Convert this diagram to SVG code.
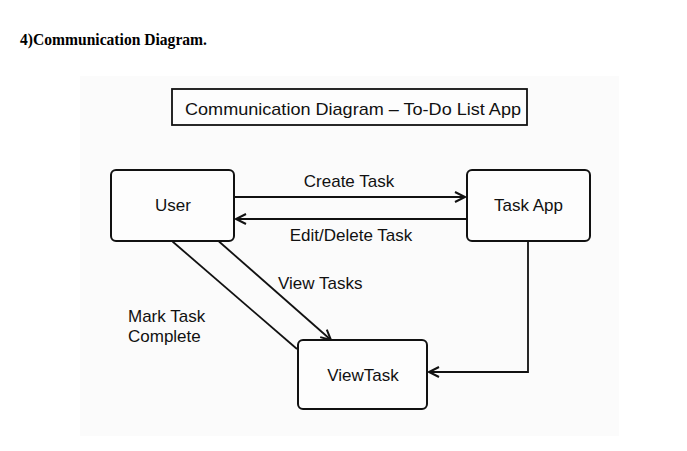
<svg xmlns="http://www.w3.org/2000/svg" width="687" height="451" viewBox="0 0 687 451">
<defs>
<style>
.box{fill:#fdfdfd;stroke:#111;stroke-width:2}
.ln{fill:none;stroke:#111;stroke-width:1.8}
.t{font-family:"Liberation Sans",Arial,sans-serif;font-size:17px;fill:#111}
</style>
<marker id="arr" markerUnits="userSpaceOnUse" markerWidth="14" markerHeight="14" refX="11" refY="6" orient="auto">
<path d="M1,1 L11,6 L1,11" fill="none" stroke="#111" stroke-width="2"/>
</marker>
</defs>
<rect width="687" height="451" fill="#ffffff"/>
<text x="20" y="45" font-family="'Liberation Serif','Times New Roman',serif" font-weight="bold" font-size="16" textLength="187" lengthAdjust="spacingAndGlyphs" fill="#000">4)Communication Diagram.</text>
<rect x="80" y="76" width="539" height="360" fill="#fbfbfb"/>
<g id="title">
<rect x="172" y="89" width="355" height="36" fill="#fdfdfd" stroke="#111" stroke-width="1.8"/>
<text class="t" x="185" y="114.5" font-size="19.5" textLength="336" lengthAdjust="spacingAndGlyphs">Communication Diagram – To-Do List App</text>
</g>
<g id="connectors">
<line class="ln" x1="234" y1="197" x2="465" y2="197" marker-end="url(#arr)"/>
<line class="ln" x1="466" y1="219" x2="236" y2="219" marker-end="url(#arr)"/>
<line class="ln" x1="172.5" y1="241.5" x2="297" y2="349"/>
<line class="ln" x1="219" y1="241.5" x2="331" y2="340" marker-end="url(#arr)"/>
<polyline class="ln" points="528,241 528,372 429,372" marker-end="url(#arr)"/>
<text class="t" x="349" y="187" text-anchor="middle">Create Task</text>
<text class="t" x="351" y="241" text-anchor="middle">Edit/Delete Task</text>
<text class="t" x="278" y="289">View Tasks</text>
<text class="t" x="128" y="322">Mark Task</text>
<text class="t" x="128" y="342">Complete</text>
</g>
<g id="user">
<rect class="box" x="111" y="170" width="123" height="71" rx="5"/>
<text class="t" x="173" y="211" text-anchor="middle">User</text>
</g>
<g id="taskapp">
<rect class="box" x="467" y="170" width="123" height="71" rx="5"/>
<text class="t" x="528.5" y="211" text-anchor="middle">Task App</text>
</g>
<g id="viewtask">
<rect class="box" x="298" y="340" width="129" height="69" rx="5"/>
<text class="t" x="363" y="381" text-anchor="middle">ViewTask</text>
</g>
</svg>
